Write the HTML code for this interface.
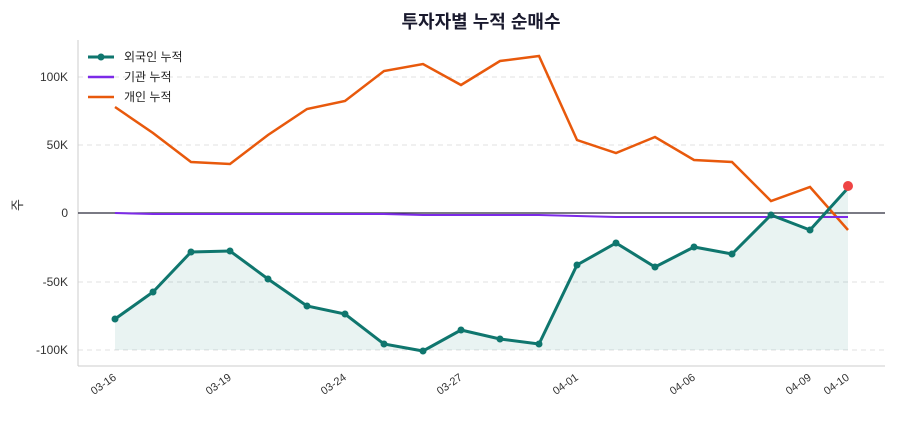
<!DOCTYPE html>
<html><head><meta charset="utf-8"><style>
body{margin:0;background:#fff;}
text{font-family:"Liberation Sans","Noto Sans CJK KR",sans-serif;}
</style></head><body>
<svg width="900" height="420" viewBox="0 0 900 420" xmlns="http://www.w3.org/2000/svg">
<rect width="900" height="420" fill="#fff"/>
<text x="481" y="28" text-anchor="middle" font-size="18" font-weight="bold" fill="#1a1a2e">투자자별 누적 순매수</text>
<g stroke="#e0e0e0" stroke-dasharray="5,4" stroke-width="1">
<line x1="78" x2="885" y1="77" y2="77"/><line x1="78" x2="885" y1="145" y2="145"/>
<line x1="78" x2="885" y1="282" y2="282"/><line x1="78" x2="885" y1="350" y2="350"/>
</g>
<line x1="78" y1="40" x2="78" y2="366" stroke="#ccc"/>
<line x1="78" y1="366" x2="885" y2="366" stroke="#ccc"/>
<line x1="78" y1="213" x2="885" y2="213" stroke="#2b2b3b" stroke-width="1.2"/>
<g font-size="12" fill="#333" text-anchor="end">
<text x="68" y="81">100K</text><text x="68" y="149">50K</text><text x="68" y="217">0</text>
<text x="68" y="286">-50K</text><text x="68" y="354">-100K</text>
</g>
<text x="22" y="205" font-size="13" fill="#333" transform="rotate(-90 22 205)" text-anchor="middle">주</text>
<g font-size="11" fill="#333" text-anchor="end">
<text transform="translate(117,379) rotate(-35)">03-16</text>
<text transform="translate(232,379) rotate(-35)">03-19</text>
<text transform="translate(347,379) rotate(-35)">03-24</text>
<text transform="translate(463,379) rotate(-35)">03-27</text>
<text transform="translate(579,379) rotate(-35)">04-01</text>
<text transform="translate(696,379) rotate(-35)">04-06</text>
<text transform="translate(812,379) rotate(-35)">04-09</text>
<text transform="translate(850,379) rotate(-35)">04-10</text>
</g>
<polygon fill="#0f766e" fill-opacity="0.09" points="115,319 153,292 191,252 230,251 268,279 307,306 345,314 384,344 423,351 461,330 500,339 539,344 577,265 616,243 655,267 694,247 732,254 771,215 810,230 848,188 848,350 115,350"/>
<polyline fill="none" stroke="#e8590c" stroke-width="2.5" points="115,107 153,133 191,162 230,164 268,135 307,109 345,101 384,71 423,64 461,85 500,61 539,56 577,140 616,153 655,137 694,160 732,162 771,201 810,187 848,230"/>
<polyline fill="none" stroke="#7c2ae8" stroke-width="2" points="115,213 153,214 191,214 230,214 268,214 307,214 345,214 384,214 423,215 461,215 500,215 539,215 577,216 616,217 655,217 694,217 732,217 771,217 810,217 848,217"/>
<polyline fill="none" stroke="#0f766e" stroke-width="3" points="115,319 153,292 191,252 230,251 268,279 307,306 345,314 384,344 423,351 461,330 500,339 539,344 577,265 616,243 655,267 694,247 732,254 771,215 810,230 848,188"/>
<g fill="#0f766e">
<circle cx="115" cy="319" r="3.5"/><circle cx="153" cy="292" r="3.5"/><circle cx="191" cy="252" r="3.5"/><circle cx="230" cy="251" r="3.5"/><circle cx="268" cy="279" r="3.5"/><circle cx="307" cy="306" r="3.5"/><circle cx="345" cy="314" r="3.5"/><circle cx="384" cy="344" r="3.5"/><circle cx="423" cy="351" r="3.5"/><circle cx="461" cy="330" r="3.5"/><circle cx="500" cy="339" r="3.5"/><circle cx="539" cy="344" r="3.5"/><circle cx="577" cy="265" r="3.5"/><circle cx="616" cy="243" r="3.5"/><circle cx="655" cy="267" r="3.5"/><circle cx="694" cy="247" r="3.5"/><circle cx="732" cy="254" r="3.5"/><circle cx="771" cy="215" r="3.5"/><circle cx="810" cy="230" r="3.5"/>
</g>
<circle cx="848" cy="186" r="5" fill="#ef4444"/>
<g font-size="12" fill="#222">
<line x1="88" y1="57" x2="114" y2="57" stroke="#0f766e" stroke-width="3"/><circle cx="101" cy="57" r="3.5" fill="#0f766e"/>
<text x="124" y="61">외국인 누적</text>
<line x1="88" y1="77" x2="114" y2="77" stroke="#7c2ae8" stroke-width="2.5"/>
<text x="124" y="81">기관 누적</text>
<line x1="88" y1="97" x2="114" y2="97" stroke="#e8590c" stroke-width="2.5"/>
<text x="124" y="101">개인 누적</text>
</g>
</svg>
</body></html>
